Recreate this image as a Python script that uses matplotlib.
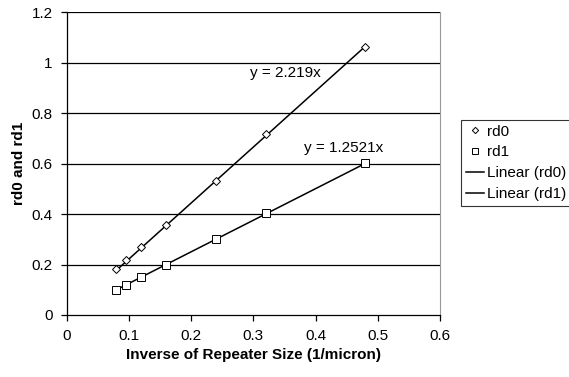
import matplotlib
matplotlib.use("Agg")
import matplotlib.pyplot as plt
from matplotlib.lines import Line2D

plt.rcParams['font.family'] = ['Liberation Sans', 'DejaVu Sans']

# data
inv_size = [0.08, 0.096, 0.12, 0.16, 0.24, 0.32, 0.48]
rd0 = [0.182, 0.218, 0.268, 0.357, 0.532, 0.716, 1.061]
rd1 = [0.099, 0.118, 0.149, 0.198, 0.300, 0.403, 0.604]
slope_rd0 = 2.219
slope_rd1 = 1.2521
label_rd0 = 'y = 2.219x'
label_rd1 = 'y = 1.2521x'

fs = 11

fig = plt.figure(figsize=(5.69, 3.77), dpi=100)
ax = fig.add_axes([0.1172, 0.1645, 0.6561, 0.8029])

# gridlines
for g in [0.2, 0.4, 0.6, 0.8, 1.0, 1.2]:
    ax.axhline(g, color='black', lw=0.9, zorder=1)

ax.plot(inv_size, rd0, ls='none', marker='D', ms=3.8, mfc='white', mec='black', mew=0.7, zorder=3)
ax.plot(inv_size, rd1, ls='none', marker='s', ms=6, mfc='white', mec='black', mew=0.7, zorder=3)

x_ends = [min(inv_size), max(inv_size)]
ax.plot(x_ends, [slope_rd0 * x for x in x_ends], color='black', lw=1.1, zorder=2)
ax.plot(x_ends, [slope_rd1 * x for x in x_ends], color='black', lw=1.1, zorder=2)

ax.text(0.352, 0.959, label_rd0, ha='center', va='center', fontsize=fs)
ax.text(0.4457, 0.662, label_rd1, ha='center', va='center', fontsize=fs)

ax.set_xlim(0, 0.6)
ax.set_ylim(0, 1.2)
ax.set_xticks([0, 0.1, 0.2, 0.3, 0.4, 0.5, 0.6])
ax.set_xticklabels(['0', '0.1', '0.2', '0.3', '0.4', '0.5', '0.6'])
ax.set_yticks([0, 0.2, 0.4, 0.6, 0.8, 1.0, 1.2])
ax.set_yticklabels(['0', '0.2', '0.4', '0.6', '0.8', '1', '1.2'])
ax.tick_params(direction='out', length=4, width=0.9, labelsize=fs, pad=6)

ax.spines['top'].set_visible(False)
ax.spines['right'].set_color('#999999')
ax.spines['left'].set_linewidth(0.9)
ax.spines['bottom'].set_linewidth(0.9)

ax.set_xlabel('Inverse of Repeater Size (1/micron)', fontsize=fs, fontweight='bold', va='center')
ax.set_ylabel('rd0 and rd1', fontsize=fs, fontweight='bold', va='center')
ax.xaxis.set_label_coords(0.5, -0.132)
ax.yaxis.set_label_coords(-0.129, 0.5)

handles = [
    Line2D([], [], ls='none', marker='D', ms=3.2, mfc='white', mec='black', mew=0.7),
    Line2D([], [], ls='none', marker='s', ms=4.5, mfc='white', mec='black', mew=0.7),
    Line2D([], [], color='black', lw=1.1),
    Line2D([], [], color='black', lw=1.1),
]
leg = fig.legend(handles, ['rd0', 'rd1', 'Linear (rd0)', 'Linear (rd1)'],
                 loc='upper left', bbox_to_anchor=(461 / 569, 1 - 120 / 377),
                 fontsize=fs, frameon=True, fancybox=False, handlelength=1.2,
                 handletextpad=0.2, borderpad=0.3, labelspacing=0.45, borderaxespad=0)
leg.get_frame().set_edgecolor('black')
leg.get_frame().set_linewidth(0.8)

fig.savefig('out.png', dpi=100)
